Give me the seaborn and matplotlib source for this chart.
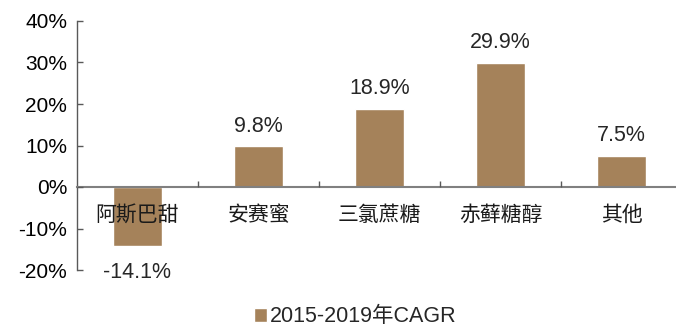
import matplotlib
matplotlib.use("Agg")
import matplotlib.pyplot as plt
import seaborn as sns
import pandas as pd
from matplotlib.ticker import FixedLocator, FuncFormatter

categories = ["阿斯巴甜", "安赛蜜", "三氯蔗糖", "赤藓糖醇", "其他"]
values = [-14.1, 9.8, 18.9, 29.9, 7.5]
series_name = "2015-2019年CAGR"
yticks = [-20, -10, 0, 10, 20, 30, 40]

sns.set_theme(style="white")
plt.rcParams['font.family'] = ['Liberation Sans', 'Noto Sans CJK SC', 'DejaVu Sans']

df = pd.DataFrame({"cat": categories, "val": values, "series": series_name})

fig = plt.figure(figsize=(6.76, 3.26), dpi=100)
ax = fig.add_axes([77/676, 56/326, 605/676, 249/326])

color = "#A5825A"
sns.barplot(data=df, x="cat", y="val", hue="series", palette=[color],
            width=0.41, ax=ax, saturation=1, legend=True)
ax.set_axisbelow(False)

ax.set_ylim(-20, 40)
ax.set_xlim(-0.5, 4.5)
ax.set_yticks(yticks)
ax.yaxis.set_major_formatter(FuncFormatter(lambda v, p: f"{v:.0f}%"))
ax.tick_params(axis='y', direction='in', length=4, width=1, color='#595959',
               labelsize=15, pad=7, labelcolor='black', left=True)
for lbl in ax.get_yticklabels():
    lbl.set_family(['Liberation Sans'])

ax.spines['bottom'].set_position(('data', 0))
for s in ['top', 'right']:
    ax.spines[s].set_visible(False)
ax.spines['left'].set_color('#595959')
ax.spines['bottom'].set_color('#808080')
ax.spines['left'].set_linewidth(1)
ax.spines['bottom'].set_linewidth(1.5)

ax.xaxis.set_minor_locator(FixedLocator([0.5, 1.5, 2.5, 3.5]))
ax.tick_params(axis='x', which='major', length=0, labelsize=15, pad=12, labelcolor='#1a1a1a')
ax.tick_params(axis='x', which='minor', direction='in', length=4, width=1, color='#595959', bottom=True)
for lbl in ax.get_xticklabels():
    lbl.set_family(['Noto Sans CJK SC'])
ax.set_xlabel("")
ax.set_ylabel("")

for cont in ax.containers:
    pos_labels = [f"{v:.1f}%" if v >= 0 else "" for v in values]
    neg_labels = [f"{v:.1f}%" if v < 0 else "" for v in values]
    ax.bar_label(cont, labels=pos_labels, padding=7, fontsize=15.5)
    ax.bar_label(cont, labels=neg_labels, padding=12, fontsize=15.5)

leg = ax.legend(loc='center', bbox_to_anchor=(355/676, 9/326), bbox_transform=fig.transFigure,
                frameon=False, fontsize=15.5, handlelength=0.6, handleheight=0.6,
                handletextpad=0.15, borderaxespad=0.0, borderpad=0.0)

fig.savefig("out.png", dpi=100)
